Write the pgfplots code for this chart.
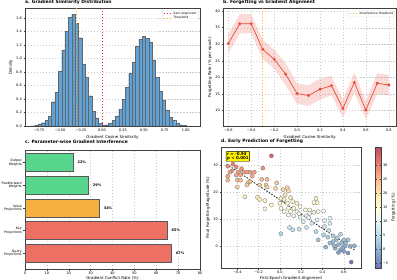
\documentclass[border=0pt]{standalone}
\usepackage{fontspec}
\setmainfont{DejaVu Sans}
\usepackage{pgfplots}
\pgfplotsset{compat=1.18}
\definecolor{histblue}{RGB}{93,163,217}
\definecolor{lred}{RGB}{231,76,60}
\definecolor{zred}{RGB}{232,45,45}
\definecolor{thorange}{RGB}{255,170,30}
\definecolor{cred}{RGB}{236,112,99}
\definecolor{corange}{RGB}{245,176,65}
\definecolor{cgreen}{RGB}{88,214,141}
\definecolor{gridgray}{RGB}{205,205,205}
\pgfplotsset{
  colormap={rdylbu}{rgb255(0)=(111,114,181) rgb255(1)=(125,158,203) rgb255(2)=(158,198,223) rgb255(3)=(196,228,240) rgb255(4)=(233,247,250) rgb255(5)=(255,255,210) rgb255(6)=(254,233,177) rgb255(7)=(254,198,144) rgb255(8)=(247,153,123) rgb255(9)=(227,110,104) rgb255(10)=(192,77,103)},
  mystyle/.style={
    scale only axis, anchor=south west,
    axis line style={draw=black!75, line width=1.1bp},
    tick style={draw=black!75, line width=0.8bp},
    major tick length=3bp, tick align=outside, tick pos=left,
    ticklabel style={font=\fontsize{7}{8}\selectfont},
    label style={font=\fontsize{8}{9}\selectfont},
    title style={at={(0,1)}, anchor=south west, font=\fontsize{9}{10}\selectfont\bfseries, inner sep=0pt, yshift=1.5bp},
    grid style={dashed, gridgray, line width=0.5bp},
    /pgf/number format/assume math mode=true,
    legend style={font=\fontsize{6}{7}\selectfont, draw=black!20, rounded corners=1.5bp, fill=white, fill opacity=0.85, text opacity=1, inner sep=1.5bp, row sep=-1.5bp},
    legend cell align=left,
  }
}
\begin{document}
\begin{tikzpicture}
\useasboundingbox (0,0) rectangle (794bp,560bp);
% ---------------- a ----------------
\begin{axis}[mystyle,
  at={(50bp,308bp)}, width=350bp, height=235bp,
  xmin=-0.917, xmax=1.17, ymin=0, ymax=1.743,
  xtick={-0.75,-0.5,-0.25,0,0.25,0.5,0.75,1},
  xticklabels={−0.75,−0.50,−0.25,0.00,0.25,0.50,0.75,1.00},
  ytick={0,0.2,0.4,0.6,0.8,1.0,1.2,1.4,1.6},
  yticklabel style={/pgf/number format/.cd,fixed,fixed zerofill,precision=1},
  ymajorgrids,
  xlabel={Gradient Cosine Similarity}, ylabel={Density},
  title={a. Gradient Similarity Distribution},
  title style={yshift=1bp},
  legend style={at={(0.99,0.985)},anchor=north east},
]
\addplot[ybar interval, fill=histblue, draw=black!60, line width=0.5bp, forget plot] coordinates {
(-0.84,0.005) (-0.80,0.01) (-0.76,0.03) (-0.72,0.05) (-0.68,0.08) (-0.64,0.15) (-0.60,0.36) (-0.56,0.50) (-0.52,0.81) (-0.48,1.13) (-0.44,1.40) (-0.40,1.61) (-0.36,1.66) (-0.32,1.52) (-0.28,1.31) (-0.24,0.92) (-0.20,0.72) (-0.16,0.45) (-0.12,0.22) (-0.08,0.12) (-0.04,0.04) (0.00,0.01) (0.04,0.02) (0.08,0.04) (0.12,0.08) (0.16,0.15) (0.20,0.25) (0.24,0.40) (0.28,0.57) (0.32,0.78) (0.36,0.95) (0.40,1.18) (0.44,1.29) (0.48,1.33) (0.52,1.30) (0.56,1.24) (0.60,0.98) (0.64,0.72) (0.68,0.51) (0.72,0.38) (0.76,0.24) (0.80,0.13) (0.84,0.08) (0.88,0.04) (0.92,0.02) (0.96,0.01) (1.00,0)};
\addplot[zred, dashed, line width=1.4bp] coordinates {(0,0) (0,1.743)};
\addlegendentry{Zero alignment}
\addplot[thorange, dashed, line width=1.4bp] coordinates {(-0.3,0) (-0.3,1.743)};
\addlegendentry{Threshold}
\end{axis}
% ---------------- b ----------------
\begin{axis}[mystyle,
  at={(446bp,308bp)}, width=347bp, height=235bp,
  xmin=-0.646, xmax=0.868, ymin=5.3, ymax=40.8,
  xtick={-0.6,-0.4,-0.2,0,0.2,0.4,0.6,0.8},
  xticklabels={−0.6,−0.4,−0.2,0.0,0.2,0.4,0.6,0.8},
  ytick={10,15,20,25,30,35,40},
  xmajorgrids, ymajorgrids,
  xlabel={Gradient Cosine Similarity}, ylabel={Forgetting Rate (\% per epoch)},
  title={b. Forgetting vs Gradient Alignment},
  title style={yshift=1bp},
  legend style={at={(0.99,0.985)},anchor=north east},
]
\addplot[fill=lred, fill opacity=0.2, draw=none, forget plot] coordinates {(-0.6,33.1) (-0.5,39.1) (-0.4,39.1) (-0.3,31.4) (-0.2,28.4) (-0.1,24.3) (0.0,18.2) (0.1,17.6) (0.2,19.6) (0.3,20.4) (0.4,13.3) (0.5,21.5) (0.6,12.8) (0.7,21.3) (0.8,20.7)
(0.8,14.6) (0.7,15.0) (0.6,7.4) (0.5,15.4) (0.4,7.9) (0.3,14.6) (0.2,13.2) (0.1,11.4) (0.0,12.0) (-0.1,17.6) (-0.2,22.6) (-0.3,25.6) (-0.4,33.3) (-0.5,33.3) (-0.6,27.2) (-0.6,33.1)};
\addplot[lred, line width=1.4bp, mark=*, mark size=2.2bp, mark options={fill=lred}, forget plot] coordinates {(-0.6,30.2) (-0.5,36.2) (-0.4,36.2) (-0.3,28.5) (-0.2,25.5) (-0.1,21.0) (0.0,15.1) (0.1,14.5) (0.2,16.4) (0.3,17.5) (0.4,10.6) (0.5,18.5) (0.6,10.1) (0.7,18.2) (0.8,17.7)};
\addplot[thorange, dashed, line width=1.4bp] coordinates {(-0.3,5.3) (-0.3,40.8)};
\addlegendentry{Interference threshold}
\end{axis}
% ---------------- c ----------------
\begin{axis}[mystyle,
  at={(50bp,22bp)}, width=350bp, height=238bp,
  xbar, bar width=0.8, bar shift=0,
  xmin=0, xmax=80, ymin=-0.69, ymax=4.56,
  xtick={0,10,20,30,40,50,60,70,80},
  ytick={0,1,2,3,4},
  yticklabels={{Query\\Projections},{Key\\Projections},{Value\\Projections},{Feedforward\\Weights},{Output\\Weights}},
  yticklabel style={align=right, font=\fontsize{6.5}{7}\selectfont},
  xmajorgrids,
  xlabel={Gradient Conflict Rate (\%)},
  xlabel style={yshift=4bp},
  title={c. Parameter-wise Gradient Interference},
  title style={yshift=4.5bp},
  nodes near coords={\pgfmathprintnumber{\pgfplotspointmeta}\%},
  nodes near coords align={horizontal},
  every node near coord/.append style={font=\fontsize{7}{8}\selectfont\bfseries, black, xshift=5bp},
]
\addplot[fill=cred, draw=black!65, line width=1.4bp] coordinates {(67,0) (65,1)};
\addplot[fill=corange, draw=black!65, line width=1.4bp] coordinates {(34,2)};
\addplot[fill=cgreen, draw=black!65, line width=1.4bp] coordinates {(29,3) (22,4)};
\end{axis}
% ---------------- d ----------------
\begin{axis}[mystyle,
  at={(442bp,24bp)}, width=280bp, height=242bp,
  xmin=-0.553, xmax=0.762, ymin=-8.3, ymax=36.9,
  xtick={-0.4,-0.2,0,0.2,0.4,0.6},
  xticklabels={−0.4,−0.2,0.0,0.2,0.4,0.6},
  ytick={0,10,20,30},
  xmajorgrids, ymajorgrids,
  xlabel={First-Epoch Gradient Alignment}, ylabel={Final Forgetting Magnitude (\%)},
  xlabel style={yshift=2bp},
  title={d. Early Prediction of Forgetting},
  colormap name=rdylbu,
  point meta min=-6.8, point meta max=36.5,
  colorbar,
  colorbar style={at={(parent axis.north east)}, anchor=north west, xshift=20bp, width=12bp,
    axis line style={draw=black!75, line width=0.8bp},
    tick style={draw=black!75, line width=0.8bp}, major tick length=3bp,
    ytick={-5,0,5,10,15,20,25,30},
    yticklabels={−5,0,5,10,15,20,25,30},
    yticklabel style={font=\fontsize{7}{8}\selectfont},
    ylabel={Forgetting (\%)},
    ylabel style={font=\fontsize{8}{9}\selectfont}},
]
\addplot[scatter, only marks, mark=*, mark size=4.1bp, scatter/use mapped color={draw=black!55, fill=mapped color}, mark options={line width=0.6bp}] coordinates {
(-0.49,29.7) (-0.49,26.0) (-0.49,24.5) (-0.45,28.0) (-0.41,29.5) (-0.39,27.6) (-0.41,26.4) (-0.37,26.5) (-0.40,24.5) (-0.37,24.5) (-0.40,22.0) (-0.34,27.6) (-0.31,27.5) (-0.28,27.5) (-0.24,27.5) (-0.30,23.5) (-0.31,22.7) (-0.28,24.0) (-0.16,29.0) (-0.17,24.8) (-0.12,24.8) (-0.13,22.7) (-0.12,22.0) (-0.19,22.7) (-0.03,23.5) (-0.08,33.6) (-0.44,30.5) (-0.36,28.8) (-0.26,26.0) (-0.47,27.5)
(-0.33,18.3) (-0.21,18.1) (-0.19,17.3) (-0.14,16.9) (-0.08,15.2) (-0.14,13.8) (-0.04,21.4) (0.03,21.0) (0.07,21.7) (0.08,20.6) (0.01,17.7) (0.04,17.3) (0.00,15.9) (0.07,15.9) (0.12,16.5) (0.16,15.9) (0.19,14.6) (0.01,14.0) (0.08,14.0) (0.13,14.0) (0.04,12.8) (0.10,12.8) (0.16,12.8) (0.24,13.4) (0.28,13.4) (0.34,17.7) (0.35,16.1) (0.32,16.1) (0.28,12.1) (0.32,12.5) (0.36,12.8) (0.41,13.0) (0.25,11.2) (0.19,10.7) (0.13,11.2) (0.08,11.5) (0.22,9.0) (0.35,9.7) (0.42,9.4) (0.47,10.3) (0.30,8.4) (0.05,19.0) (0.10,18.0) (0.18,12.0) (0.27,10.5)
(0.09,6.8) (0.12,6.0) (0.01,4.5) (0.18,6.2) (0.25,6.8) (0.34,5.3) (0.42,7.2) (0.46,5.7) (0.47,8.4) (0.41,4.1) (0.36,2.2) (0.43,-0.5) (0.50,3.7) (0.53,2.2) (0.57,4.3) (0.55,0.4) (0.60,2.2) (0.50,1.6) (0.52,-0.9) (0.57,-1.5) (0.61,-0.2) (0.64,2.2) (0.66,-0.2) (0.60,-2.1) (0.55,-2.5) (0.64,-2.7) (0.70,0.0) (0.67,-6.1) (0.47,1.0) (0.51,0.0) (0.58,1.0) (0.62,1.0) (0.54,3.0) (0.45,3.2) (0.59,-0.8)};
\addplot[black, dashed, line width=1.8bp, opacity=0.85] coordinates {(-0.5,30.5) (0.70,-1.5)};
\node[fill=yellow, draw=black, rounded corners=1.5bp, line width=0.8bp, align=left, font=\fontsize{8}{8.5}\selectfont\bfseries, inner sep=2bp, anchor=north west] at (rel axis cs:0.035,0.965) {r = -0.93\\p < 0.001};
\end{axis}
\end{tikzpicture}
\end{document}
